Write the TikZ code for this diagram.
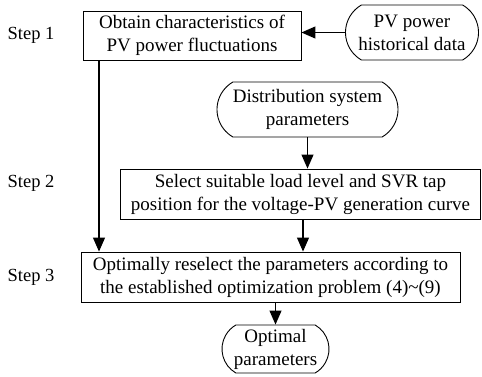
\documentclass[tikz,border=0pt]{standalone}
\usepackage{fontspec}
\setmainfont{Liberation Serif}
\usetikzlibrary{arrows.meta,shapes.misc}
\tikzset{gbox/.style={
    rectangle,
    draw,
    line width=0.9pt,
    align=center,
    inner sep=2pt,
    font=\fontsize{19}{23}\selectfont
  },
  obox/.style={gbox,rounded rectangle,rounded rectangle arc length=120},
  steplbl/.style={font=\fontsize{18.5}{22}\selectfont},
  flow/.style={line width=1.2pt,-{Triangle[length=14pt,width=12pt]}},
}
\begin{document}
\begin{tikzpicture}[x=1pt,y=-1pt]
  \useasboundingbox (0,0) rectangle (482,377);
  \node [gbox,minimum width=218pt,minimum height=49pt] (obtain) at (192,35.5)
    {Obtain characteristics of\\PV power fluctuations};
  \node [obox,minimum width=137pt,minimum height=55pt] (pvdata) at (412,32.5)
    {PV power\\historical data};
  \node [obox,minimum width=185pt,minimum height=55pt] (dist) at (307.5,109.5)
    {Distribution system\\parameters};
  \node [gbox,minimum width=360pt,minimum height=50pt] (select) at (300.5,194)
    {Select suitable load level and SVR tap\\position for the voltage-PV generation curve};
  \node [gbox,minimum width=379pt,minimum height=50pt] (optim) at (270.5,277)
    {Optimally reselect the parameters according to\\the established optimization problem (4)\textasciitilde(9)};
  \node [obox,minimum width=111pt,minimum height=48pt] (result) at (275.5,349)
    {Optimal\\parameters};
  \node [steplbl] (step1) at (31,35) {Step 1};
  \node [steplbl] (step2) at (31,183) {Step 2};
  \node [steplbl] (step3) at (31,277) {Step 3};
  \draw[flow] (pvdata.west) -- (pvdata.west -| obtain.east);
  \draw[flow] ([xshift=-93pt]obtain.south) -- ([xshift=-93pt]obtain.south |- optim.north);
  \draw[flow] (dist.south) -- (dist.south |- select.north);
  \draw[flow] ([xshift=2.5pt]select.south) -- ([xshift=2.5pt]select.south |- optim.north);
  \draw[flow] (optim.south -| result.north) -- (result.north);
\end{tikzpicture}
\end{document}
